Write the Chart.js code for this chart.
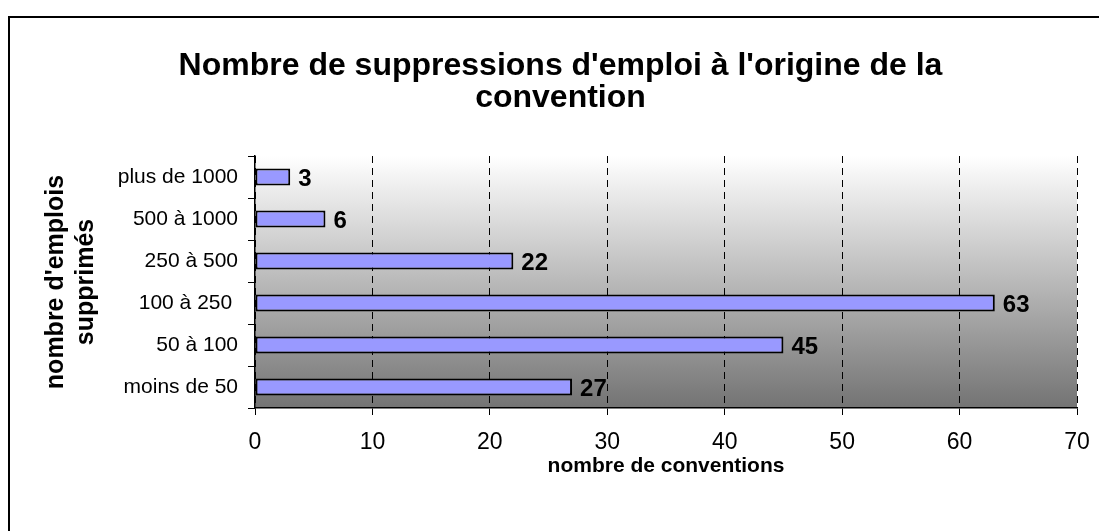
<!DOCTYPE html>
<html lang="fr">
<head>
<meta charset="utf-8">
<title>Suppressions d'emploi</title>
<script src="https://cdn.jsdelivr.net/npm/chart.js@4.4.1/dist/chart.umd.min.js"></script>
<style>
  html, body { margin: 0; padding: 0; background: #fff; }
  #wrap { width: 1099px; height: 531px; }
</style>
</head>
<body>
<div id="wrap"><canvas id="chart" width="1099" height="531"></canvas></div>
<script>
// Données
const categories = ["plus de 1000", "500 à 1000", "250 à 500", "100 à 250 ", "50 à 100", "moins de 50"];
const conventions = [3, 6, 22, 63, 45, 27];
const xTicks = [0, 10, 20, 30, 40, 50, 60, 70];

const titleLines = ["Nombre de suppressions d'emploi à l'origine de la", "convention"];
const yTitleLines = ["nombre d'emplois", "supprimés"];
const xTitle = "nombre de conventions";

const FONT = "'Liberation Sans', Arial, sans-serif";

// fond blanc + cadre + dégradé de la zone de tracé
const backgroundPlugin = {
  id: "background",
  beforeDraw(chart) {
    const { ctx, chartArea: a } = chart;
    ctx.save();
    ctx.fillStyle = "#fff";
    ctx.fillRect(0, 0, chart.width, chart.height);
    const g = ctx.createLinearGradient(0, a.top, 0, a.bottom);
    g.addColorStop(0, "#ffffff");
    g.addColorStop(1, "#737373");
    ctx.fillStyle = g;
    ctx.fillRect(a.left, a.top, a.right - a.left, a.bottom - a.top);
    ctx.restore();
  },
  afterDraw(chart) {
    const ctx = chart.ctx;
    ctx.save();
    ctx.strokeStyle = "#000";
    ctx.lineWidth = 2;
    ctx.strokeRect(9, 17, chart.width + 20, chart.height + 20);
    ctx.restore();
  }
};

// étiquettes de valeur à droite des barres
const valueLabels = {
  id: "valueLabels",
  afterDatasetsDraw(chart) {
    const ctx = chart.ctx;
    const meta = chart.getDatasetMeta(0);
    ctx.save();
    ctx.font = "bold 24px " + FONT;
    ctx.fillStyle = "#000";
    ctx.textBaseline = "middle";
    ctx.textAlign = "left";
    meta.data.forEach((bar, i) => {
      ctx.fillText(String(conventions[i]), bar.x + 8, bar.y + 2);
    });
    ctx.restore();
  }
};

new Chart(document.getElementById("chart"), {
  type: "bar",
  data: {
    labels: categories,
    datasets: [{
      data: conventions,
      backgroundColor: "#9999ff",
      borderColor: "#000",
      borderWidth: 2,
      borderSkipped: false,
      barPercentage: 0.4,
      categoryPercentage: 1
    }]
  },
  options: {
    indexAxis: "y",
    responsive: false,
    animation: false,
    layout: { padding: { left: 44, right: 22, top: 0, bottom: 0 } },
    plugins: {
      legend: { display: false },
      tooltip: { enabled: false },
      title: {
        display: true,
        text: titleLines,
        color: "#000",
        font: { family: FONT, size: 32, weight: "bold", lineHeight: "32px" },
        padding: { top: 50, bottom: 42 }
      }
    },
    scales: {
      x: {
        min: 0,
        max: 70,
        afterFit(scale) {
          scale.height = 123;
          scale.paddingLeft = 0;
          scale.paddingRight = 0;
        },
        afterBuildTicks(scale) { scale.ticks = xTicks.map(v => ({ value: v })); },
        ticks: {
          color: "#000",
          font: { family: FONT, size: 23 },
          padding: 14,
          maxRotation: 0
        },
        grid: {
          color: "#000",
          lineWidth: 1,
          drawTicks: true,
          tickLength: 7,
          tickColor: "#000"
        },
        border: { display: true, color: "#000", width: 1.5, dash: [7, 5] },
        title: {
          display: true,
          text: xTitle,
          color: "#000",
          font: { family: FONT, size: 21, weight: "bold", lineHeight: "24px" },
          padding: { top: 0, bottom: 53 }
        }
      },
      y: {
        afterFit(scale) { scale.width = 211; },
        ticks: {
          color: "#000",
          font: { family: FONT, size: 21 },
          padding: 10
        },
        grid: {
          offset: true,
          drawOnChartArea: false,
          drawTicks: true,
          tickLength: 7,
          color: "#000",
          tickColor: "#000"
        },
        border: { display: true, color: "#000", width: 1.5 },
        title: {
          display: true,
          text: yTitleLines,
          color: "#000",
          font: { family: FONT, size: 25, weight: "bold", lineHeight: "30px" },
          padding: { top: -3, bottom: 0 }
        }
      }
    }
  },
  plugins: [backgroundPlugin, valueLabels]
});
</script>
</body>
</html>
